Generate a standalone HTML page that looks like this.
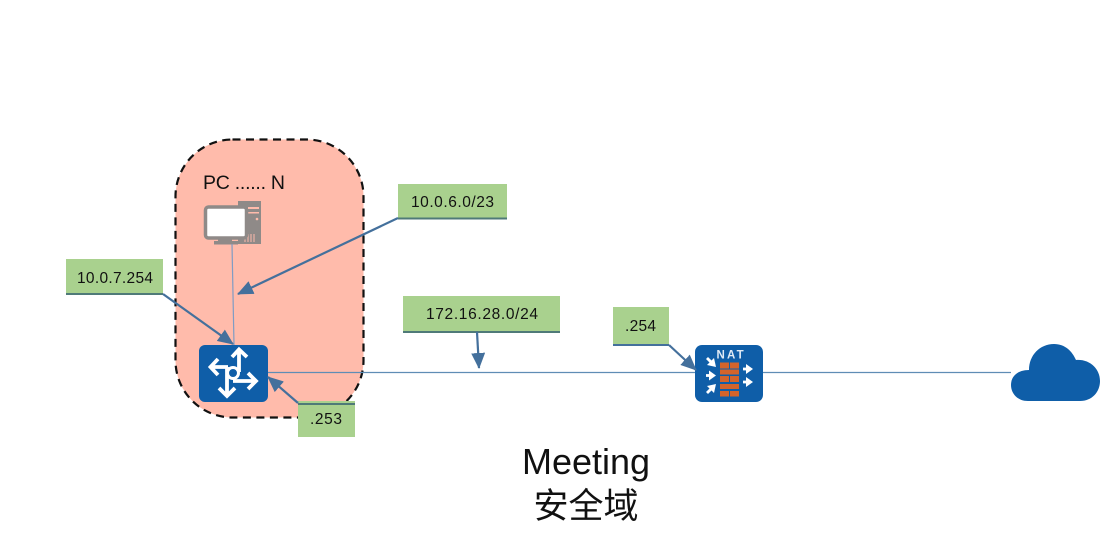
<!DOCTYPE html>
<html><head><meta charset="utf-8"><style>
html,body{margin:0;padding:0;background:#fff;width:1116px;height:554px;overflow:hidden}
svg{display:block}
text{font-family:"Liberation Sans","Noto Sans CJK SC",sans-serif;fill:#111}
</style></head><body>
<svg width="1116" height="554" viewBox="0 0 1116 554" xmlns="http://www.w3.org/2000/svg">
<defs>
<marker id="a" markerUnits="userSpaceOnUse" markerWidth="16" markerHeight="14" refX="15" refY="7" orient="auto"><path d="M0 0L16 7L0 14Z" fill="#44709c"/></marker>
</defs>
<rect x="175.500" y="139.500" width="188" height="278" rx="57" ry="57" fill="#ffbbab" stroke="#111" stroke-width="2.200" stroke-dasharray="8 5.500"/>
<text x="203" y="189" font-size="19.500" textLength="82" lengthAdjust="spacing">PC ...... N</text>
<!-- PC -->
<g>
<rect x="238" y="201" width="23" height="43" fill="#8f8a88"/>
<rect x="248" y="207" width="11" height="2" fill="#ffbbab"/><rect x="248" y="212" width="11" height="1.500" fill="#ffbbab"/>
<circle cx="257" cy="219" r="1.300" fill="#ffbbab"/>
<path d="M245 234v8M248 234v8M251 234v8M254 234v8" stroke="#ffbbab" stroke-width="1"/>
<rect x="205.500" y="207" width="41" height="31" rx="3" fill="#fff" stroke="#8f8a88" stroke-width="3.500"/>
<rect x="218" y="239" width="14" height="3" fill="#8f8a88"/>
<rect x="214" y="241" width="24" height="3.500" fill="#8f8a88"/>
</g>
<!-- lines -->
<path d="M232 244L234 345" stroke="#7f9cc4" stroke-width="1.200" fill="none"/>
<path d="M268 372.500H695M763 372.500H1011" stroke="#5f8db5" stroke-width="1.200" fill="none"/>
<!-- router -->
<rect x="199" y="345" width="69" height="57" rx="6" fill="#0f5ea8"/>
<g stroke="#fff" stroke-width="3.800" fill="none">
<path d="M239 349V372M232 357L239 349.500L247 357"/>
<path d="M228 367H210.500M218 359L210.500 367L218 375"/>
<path d="M227 367V396M219 388L227 396L235 388"/>
<path d="M233 381H256M248 373L256 381L248 389"/>
<circle cx="233" cy="373" r="5.500" fill="#0f5ea8" stroke-width="3"/>
</g>
<!-- NAT -->
<rect x="695" y="345" width="68" height="57" rx="7" fill="#0f5ea8"/>
<text x="716.500" y="358.500" font-size="11.500" font-weight="bold" style="fill:#dfeaf5" letter-spacing="2.200">NAT</text>
<g fill="#d3642c">
<rect x="720" y="362.500" width="9" height="6"/><rect x="730" y="362.500" width="9" height="6"/>
<rect x="720" y="369.500" width="19" height="5"/>
<rect x="720" y="376" width="9" height="6"/><rect x="730" y="376" width="9" height="6"/>
<rect x="720" y="384" width="19" height="5"/>
<rect x="720" y="391" width="9" height="5.500"/><rect x="730" y="391" width="9" height="5.500"/>
</g>
<g stroke="#fff" stroke-width="2.800" fill="#fff">
<path d="M707 358L712 363"/><path d="M716 367L707 365L714 358Z" stroke="none"/>
<path d="M706 375.500H711"/><path d="M716 375.500L709 370.500V380.500Z" stroke="none"/>
<path d="M707 393L712 388"/><path d="M716 384L714 393L707 386Z" stroke="none"/>
<path d="M743 369H748"/><path d="M753 369L746 364V374Z" stroke="none"/>
<path d="M743 382H748"/><path d="M753 382L746 377V387Z" stroke="none"/>
</g>
<!-- cloud -->
<path d="M1028 401C1017 401 1011 393 1011 385C1011 376 1018 370 1029 370C1029 355 1040 344 1054 344C1065 344 1072 351 1076 360C1090 359 1100 369 1100 381C1100 392 1092 401 1080 401Z" fill="#0f5ea8"/>
<!-- labels -->
<g fill="#a9d18e">
<rect x="398" y="184" width="109" height="34"/>
<rect x="403" y="296" width="157" height="36"/>
<rect x="613" y="307" width="56" height="38"/>
<rect x="298" y="401" width="57" height="36"/>
<rect x="66" y="259" width="97" height="35"/>
</g>
<g stroke="#4f7a78" stroke-width="2" fill="none">
<path d="M398 218.500H507M403 332H560"/>
<path d="M613 345H669" stroke="#44709c"/>
<path d="M298 404H355M66 294H163"/>
</g>
<!-- arrows -->
<g stroke="#44709c" stroke-width="2.200" fill="none">
<path d="M398 218L238 294" marker-end="url(#a)"/>
<path d="M163 294L233 344" marker-end="url(#a)"/>
<path d="M477 332L479 368" marker-end="url(#a)"/>
<path d="M669 345L696 370" marker-end="url(#a)"/>
<path d="M298 403L268 377" marker-end="url(#a)"/>
</g>
<g font-size="15.500">
<text x="411" y="207" textLength="83" lengthAdjust="spacing">10.0.6.0/23</text>
<text x="426" y="319" textLength="112" lengthAdjust="spacing">172.16.28.0/24</text>
<text x="625" y="331" textLength="31" lengthAdjust="spacing">.254</text>
<text x="310" y="424" textLength="32" lengthAdjust="spacing">.253</text>
<text x="77" y="283" textLength="76" lengthAdjust="spacing">10.0.7.254</text>
</g>
<text x="586" y="474" font-size="36" text-anchor="middle">Meeting</text>
<text x="586" y="518" font-size="35" text-anchor="middle">安全域</text>
</svg>
</body></html>
